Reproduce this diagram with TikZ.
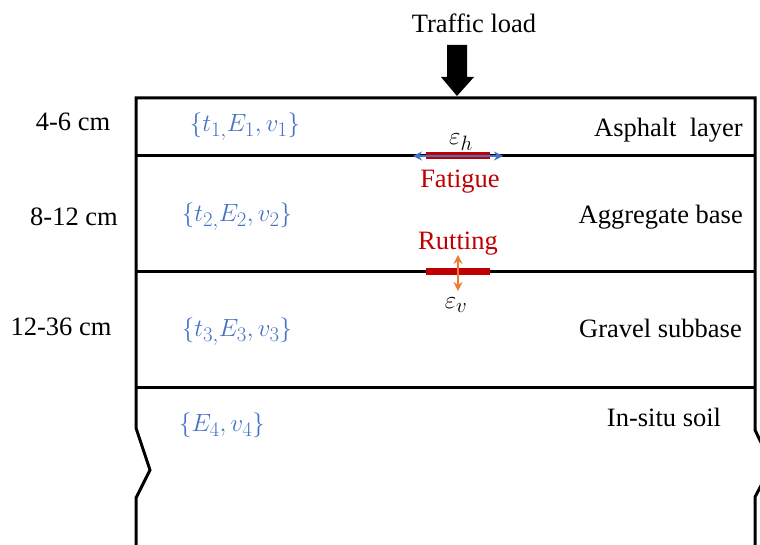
\documentclass[tikz,border=0pt]{standalone}
\usepackage{fontspec}
\setmainfont{Liberation Serif}
\newfontfamily\tnr{Liberation Serif}
\usetikzlibrary{arrows.meta}
\definecolor{pblue}{HTML}{4472C4}
\definecolor{pred}{HTML}{C00000}
\definecolor{porange}{HTML}{ED7D31}
\tikzset{
  lbl/.style={font=\tnr\fontsize{26.5}{31}\selectfont, inner sep=0pt},
  param/.style={font=\fontsize{28}{33}\selectfont, text=pblue, inner sep=0pt},
  edge/.style={line width=3pt, black},
  redtxt/.style={font=\tnr\fontsize{26.5}{31}\selectfont, text=pred, inner sep=0pt},
  dbl/.style={line width=2.5pt, {Stealth[length=9pt,width=9pt]}-{Stealth[length=9pt,width=9pt]}},
}
\begin{document}
\begin{tikzpicture}[x=1pt,y=-1pt]
\useasboundingbox (0,0) rectangle (760,545);
\clip (0,0) rectangle (760,545);
% corner coordinates
\coordinate (tl) at (136,98);
\coordinate (tr) at (755,98);
\coordinate (l1) at (136,156);
\coordinate (r1) at (755,156);
\coordinate (l2) at (136,272);
\coordinate (r2) at (755,272);
\coordinate (l3) at (136,387);
\coordinate (r3) at (755,387);
% outline
\draw[edge, line join=miter] (136,545) -- (136,498) -- (150,470) -- (136,428) -- (tl) -- (tr) -- (755,430) -- (772,465) -- (755,497) -- (755,545);
\draw[edge] (l1) -- (r1);
\draw[edge] (l2) -- (r2);
\draw[edge] (l3) -- (r3);
% traffic load
\node[lbl] (tload) at (474,23) {Traffic load};
\fill[black] (447,45) -- (467,45) -- (467,77) -- (474,77) -- (457,96) -- (441,77) -- (447,77) -- cycle;
% thickness labels
\node[lbl] (th1) at (73,122) {4-6 cm};
\node[lbl] (th2) at (74,217) {8-12 cm};
\node[lbl] (th3) at (61,327) {12-36 cm};
% parameters
\node[param] (p1) at (245,127) {$\{t_{1,}E_1,v_1\}$};
\node[param] (p2) at (237,217) {$\{t_{2,}E_2,v_2\}$};
\node[param] (p3) at (237,332) {$\{t_{3,}E_3,v_3\}$};
\node[param] (p4) at (222,425) {$\{E_4,v_4\}$};
% layer names
\node[lbl, anchor=east] (n1) at (743,130) {Asphalt\ \ layer};
\node[lbl, anchor=east] (n2) at (743,217) {Aggregate base};
\node[lbl, anchor=east] (n3) at (742,328) {Gravel subbase};
\node[lbl] (n4) at (664,417) {In-situ soil};
% fatigue
\draw[pred, line width=7pt] (426,156) -- (490,156);
\coordinate (ha) at (413,156);
\coordinate (hb) at (503,156);
\draw[pblue, dbl] (ha) -- (hb);
\node[font=\fontsize{28}{33}\selectfont, inner sep=0pt] (eh) at (461,142) {$\varepsilon_h$};
\node[redtxt] (fat) at (460,182) {Fatigue};
% rutting
\draw[pred, line width=7pt] (426,272) -- (490,272);
\node[redtxt] (rut) at (458,244) {Rutting};
\coordinate (va) at (458,255);
\coordinate (vb) at (458,291);
\draw[porange, dbl, line width=2pt] (va) -- (vb);
\node[font=\fontsize{28}{33}\selectfont, inner sep=0pt] (ev) at (456,305) {$\varepsilon_v$};
\end{tikzpicture}
\end{document}
